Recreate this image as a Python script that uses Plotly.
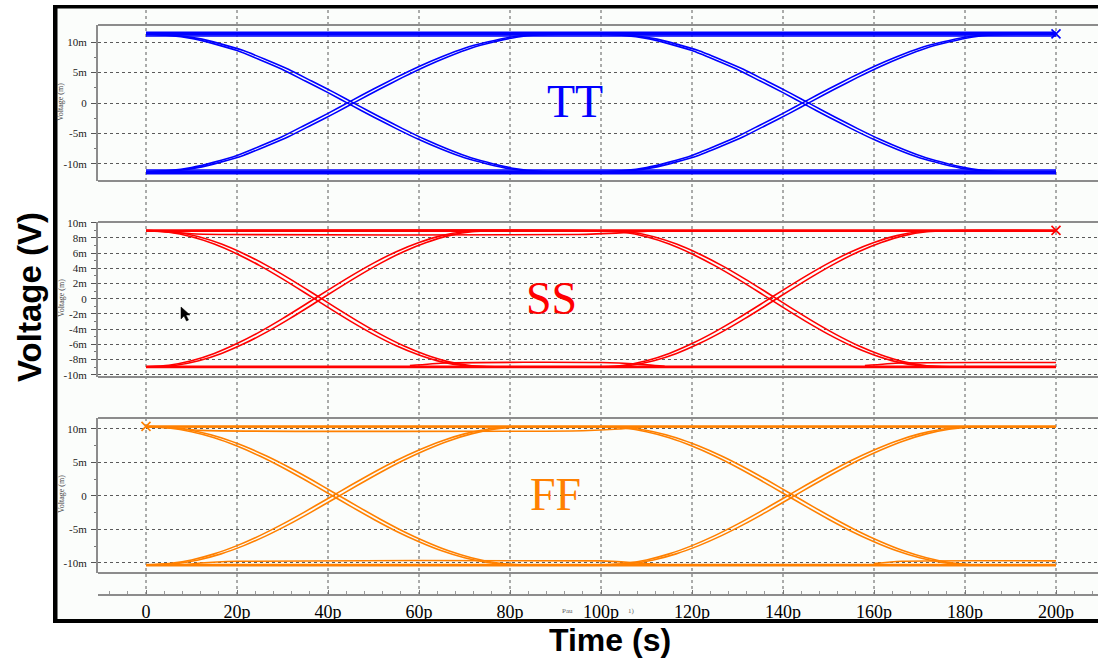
import plotly.graph_objects as go

# ---------------- data ----------------
x_ticks = [0, 20, 40, 60, 80, 100, 120, 140, 160, 180, 200]
x_ticktext = ["0", "20p", "40p", "60p", "80p", "100p", "120p", "140p", "160p", "180p", "200p"]
bit_starts = [0, 100]          # edges start at 0 ps and 100 ps

# TT corner (mV vs ps, edge time relative to edge start)
tt_edge_t = [0, 5, 10, 15, 20, 25, 30, 35, 40, 45, 50, 55, 60, 65, 70, 75, 80, 85, 90]
tt_fall_v = [11.3, 11.1, 10.6, 9.7, 8.6, 7.1, 5.5, 3.6, 1.7, -0.3, -2.3, -4.2, -6.0, -7.6, -9.0, -10.0, -10.8, -11.2, -11.3]
tt_rise_v = [-11.3, -11.1, -10.6, -9.7, -8.6, -7.1, -5.5, -3.6, -1.7, 0.3, 2.3, 4.2, 6.0, 7.6, 9.0, 10.0, 10.8, 11.2, 11.3]
tt_skew = 1.4
tt_hi_levels = [11.0, 11.2, 11.4, 11.6]
tt_lo_levels = [-11.0, -11.2, -11.4, -11.6]
tt_shelf_x = []
tt_shelf_v = []
tt_ticks = [-10, -5, 0, 5, 10]
tt_ticktext = ["-10m", "-5m", "0", "5m", "10m"]

# SS corner
ss_edge_t = [0, 5, 10, 15, 20, 25, 30, 35, 40, 45, 50, 55, 60, 65, 70, 75]
ss_fall_v = [8.95, 8.75, 8.16, 7.2, 5.9, 4.36, 2.62, 0.76, -1.14, -2.98, -4.69, -6.19, -7.4, -8.31, -8.82, -8.95]
ss_rise_v = [-8.95, -8.75, -8.16, -7.2, -5.9, -4.36, -2.62, -0.76, 1.14, 2.98, 4.69, 6.19, 7.4, 8.31, 8.82, 8.95]
ss_skew = 1.6
ss_hi_levels = [8.9, 9.05]
ss_lo_levels = [-8.9, -9.05]
ss_shelf_x = [[0, 5, 10, 16, 95, 105, 112], [58, 66, 100, 108, 114], [158, 166, 200]]
ss_shelf_v = [[9.0, 8.8, 8.55, 8.45, 8.45, 8.7, 8.95], [-8.8, -8.45, -8.4, -8.6, -8.9], [-8.8, -8.45, -8.4]]
ss_ticks = [-10, -8, -6, -4, -2, 0, 2, 4, 6, 8, 10]
ss_ticktext = ["-10m", "-8m", "-6m", "-4m", "-2m", "0", "2m", "4m", "6m", "8m", "10m"]

# FF corner
ff_edge_t = [0, 5, 10, 15, 20, 25, 30, 35, 40, 45, 50, 55, 60, 65, 70, 75, 80, 85]
ff_fall_v = [10.3, 10.1, 9.55, 8.65, 7.42, 5.93, 4.22, 2.35, 0.39, -1.57, -3.48, -5.27, -6.84, -8.19, -9.23, -9.93, -10.27, -10.3]
ff_rise_v = [-10.3, -10.1, -9.55, -8.65, -7.42, -5.93, -4.22, -2.35, -0.39, 1.57, 3.48, 5.27, 6.84, 8.19, 9.23, 9.93, 10.27, 10.3]
ff_skew = 1.5
ff_hi_levels = [10.25, 10.4]
ff_lo_levels = [-10.25, -10.4]
ff_shelf_x = [[0, 6, 12, 96, 104, 110], [8, 12, 20, 100, 107, 114], [160, 166, 200]]
ff_shelf_v = [[10.35, 10.1, 9.75, 9.7, 9.95, 10.3], [-10.3, -10.0, -9.75, -9.7, -9.95, -10.3], [-10.1, -9.75, -9.7]]
ff_ticks = [-10, -5, 0, 5, 10]
ff_ticktext = ["-10m", "-5m", "0", "5m", "10m"]

# cursor markers
marker_pts = {"TT": (200, 11.35), "SS": (200, 9.0), "FF": (0, 10.35)}

# ---------------- geometry helpers ----------------
W, H = 1098, 661
def px(v):
    return v / W
def py(v):
    return 1 - v / H

BLUE = "#0000FF"
RED = "#FF0000"
ORANGE = "#FF8000"

fig = go.Figure()

def add_panel(yref, color, edge_t, fall_v, rise_v, skew, hi_levels, lo_levels, shelf_x, shelf_v):
    common = dict(mode="lines", line=dict(color=color, width=1.6, shape="spline", smoothing=0.6),
                  xaxis="x", yaxis=yref, showlegend=False, hoverinfo="skip")
    for lv in hi_levels + lo_levels:
        fig.add_trace(go.Scatter(x=[0, 200], y=[lv, lv], **common))
    for start in bit_starts:
        for sh in (0.0, skew):
            for vals in (fall_v, rise_v):
                xs = [start + sh + t for t in edge_t]
                ys = list(vals)
                if xs[0] > 0:
                    xs = [0] + xs
                    ys = [vals[0]] + ys
                if xs[-1] < 200:
                    xs = xs + [200]
                    ys = ys + [vals[-1]]
                fig.add_trace(go.Scatter(x=xs, y=ys, **common))
    for sx, sv in zip(shelf_x, shelf_v):
        fig.add_trace(go.Scatter(x=sx, y=sv, **common))

add_panel("y", BLUE, tt_edge_t, tt_fall_v, tt_rise_v, tt_skew, tt_hi_levels, tt_lo_levels, tt_shelf_x, tt_shelf_v)
add_panel("y2", RED, ss_edge_t, ss_fall_v, ss_rise_v, ss_skew, ss_hi_levels, ss_lo_levels, ss_shelf_x, ss_shelf_v)
add_panel("y3", ORANGE, ff_edge_t, ff_fall_v, ff_rise_v, ff_skew, ff_hi_levels, ff_lo_levels, ff_shelf_x, ff_shelf_v)

for (name, yref, color) in (("TT", "y", BLUE), ("SS", "y2", RED), ("FF", "y3", ORANGE)):
    mx, my = marker_pts[name]
    fig.add_trace(go.Scatter(x=[mx], y=[my], mode="markers", xaxis="x", yaxis=yref,
                             marker=dict(symbol="x-thin", size=9, line=dict(color=color, width=1.6)),
                             showlegend=False, hoverinfo="skip"))

# ---------------- axes ----------------
x0_px, x_per_ps = 146, 4.55
x_range = [(98 - x0_px) / x_per_ps, (W - x0_px) / x_per_ps]

grid_col = "#5a5a5a"
box_col = "#8c8c8c"
tick_font = dict(family="Liberation Serif", size=11, color="#222222")

def yaxis_cfg(domain, rng, tv, tt, minor_vals):
    return dict(domain=domain, range=rng, anchor="x", tickvals=tv, ticktext=tt,
                showgrid=True, gridcolor=grid_col, griddash="3px,3px", gridwidth=1,
                showline=True, linecolor=box_col, linewidth=2, zeroline=False,
                ticks="outside", ticklen=5, tickcolor="#555555", tickfont=tick_font,
                ticklabelstandoff=2,
                minor=dict(tickvals=minor_vals, ticks="outside", ticklen=2, tickcolor="#777777", showgrid=False),
                fixedrange=True)

fig.update_layout(
    width=W, height=H,
    margin=dict(l=0, r=0, t=0, b=0, autoexpand=False),
    paper_bgcolor="white", plot_bgcolor="rgba(0,0,0,0)",
    xaxis=dict(domain=[px(98), 1.0], range=x_range, anchor="free", position=py(595),
               tickvals=x_ticks, ticktext=x_ticktext, showgrid=False, zeroline=False,
               showline=True, linecolor=box_col, linewidth=2,
               ticks="inside", ticklen=4, tickcolor="#777777",
               minor=dict(dtick=4, ticks="inside", ticklen=3, tickcolor="#999999"),
               tickfont=dict(family="Liberation Serif", size=18, color="black"), fixedrange=True),
    yaxis=yaxis_cfg([py(181), py(25)], [-12.8, 12.8], tt_ticks, tt_ticktext, [-7.5, -2.5, 2.5, 7.5]),
    yaxis2=yaxis_cfg([py(377), py(222)], [-10.3, 10.1], ss_ticks, ss_ticktext, [-9, -7, -5, -3, -1, 1, 3, 5, 7, 9]),
    yaxis3=yaxis_cfg([py(573), py(418)], [-11.5, 11.6], ff_ticks, ff_ticktext, [-7.5, -2.5, 2.5, 7.5]),
)

shapes = []
# light background inside the frame
shapes.append(dict(type="rect", xref="paper", yref="paper", x0=px(57), x1=1.0, y0=py(620), y1=py(8),
                   fillcolor="#FBFDFB", line=dict(width=0), layer="below"))
# vertical dashed grid across all panels
for v in x_ticks:
    shapes.append(dict(type="line", xref="x", yref="paper", x0=v, x1=v, y0=py(595), y1=py(8),
                       line=dict(color=grid_col, width=1, dash="3px,3px"), layer="below"))
# panel box top / bottom lines
for yr in ("y", "y2", "y3"):
    for yy in (0, 1):
        shapes.append(dict(type="line", xref="paper", yref=yr + " domain", x0=px(98), x1=1.0, y0=yy, y1=yy,
                           line=dict(color=box_col, width=2), layer="above"))
# black frame
shapes.append(dict(type="rect", xref="paper", yref="paper", x0=px(53), x1=px(57.5), y0=py(623), y1=py(5),
                   fillcolor="black", line=dict(width=0), layer="above"))
shapes.append(dict(type="rect", xref="paper", yref="paper", x0=px(53), x1=1.0, y0=py(8.5), y1=py(5),
                   fillcolor="black", line=dict(width=0), layer="above"))
shapes.append(dict(type="rect", xref="paper", yref="paper", x0=px(53), x1=1.0, y0=py(623), y1=py(619),
                   fillcolor="black", line=dict(width=0), layer="above"))
# mouse pointer in the SS panel
cur = [(181, 307), (181, 319), (184, 316), (186.5, 321), (188.5, 320), (186, 315), (190, 315)]
path = "M " + " L ".join(f"{px(a):.5f},{py(b):.5f}" for a, b in cur) + " Z"
shapes.append(dict(type="path", xref="paper", yref="paper", path=path, fillcolor="black",
                   line=dict(color="black", width=0.5), layer="above"))
fig.update_layout(shapes=shapes)

ann = []
def add_text(txt, xx, yy, font, angle=0):
    ann.append(dict(text=txt, x=px(xx), y=py(yy), xref="paper", yref="paper", showarrow=False,
                    xanchor="center", yanchor="middle", textangle=angle, font=font))

add_text("<b>Voltage (V)</b>", 30, 297, dict(family="Liberation Sans", size=33, color="black"), -90)
add_text("<b>Time (s)</b>", 610, 640, dict(family="Liberation Sans", size=32, color="black"))
for txt, xx, yy, col in (("TT", 575, 102, BLUE), ("SS", 551, 298, RED), ("FF", 555, 494, ORANGE)):
    add_text(txt, xx, yy, dict(family="Liberation Serif", size=46, color=col))
for yy in (102, 298, 494):
    add_text("Voltage (m)", 61, yy, dict(family="Liberation Serif", size=8, color="#444444"), -90)
add_text("Pau", 567, 611, dict(family="Liberation Serif", size=7, color="#666666"))
add_text("1)", 631, 611, dict(family="Liberation Serif", size=7, color="#666666"))
fig.update_layout(annotations=ann)

fig.write_html("out.html")
